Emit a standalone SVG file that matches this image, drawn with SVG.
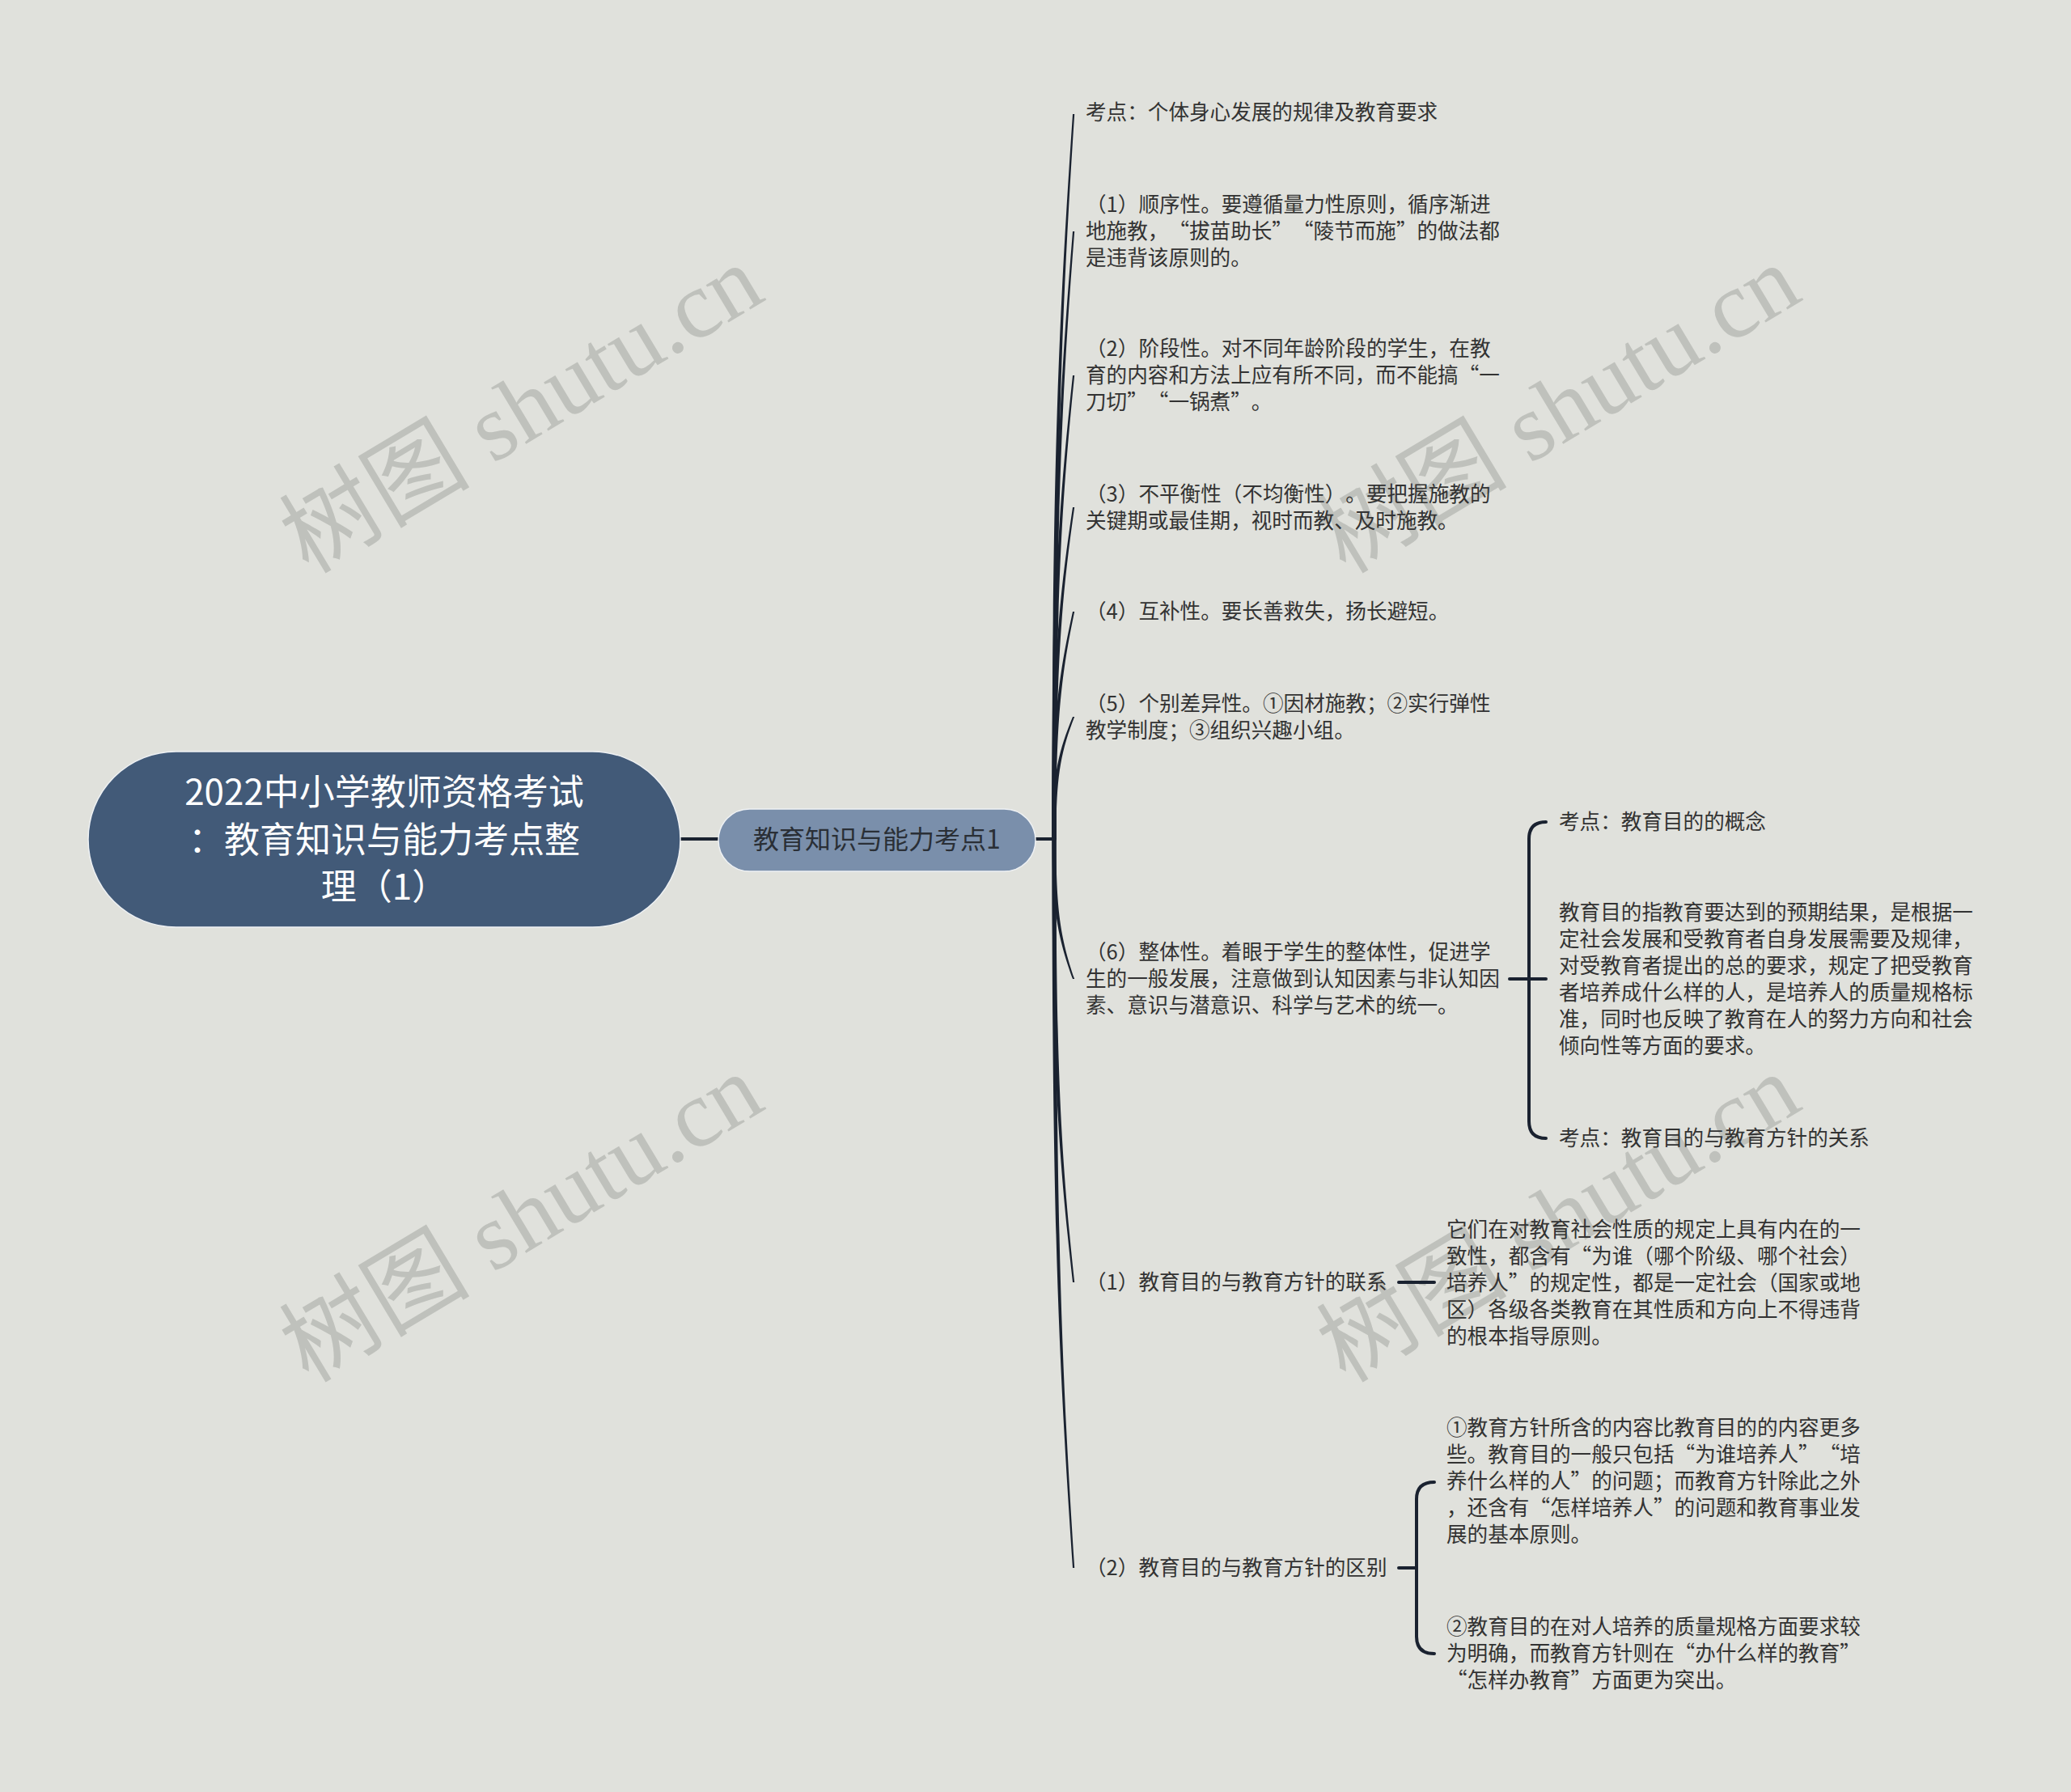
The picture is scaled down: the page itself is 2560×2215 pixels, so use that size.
<svg xmlns="http://www.w3.org/2000/svg" width="2560" height="2215" viewBox="0 0 2560 2215">
<style>
.bg{fill:#e0e1dc}
.wm{font-family:"Liberation Serif","Noto Sans CJK SC",serif;font-size:118px;fill:#bfc1bc}
.rootbox{fill:#425a78;stroke:#eef1f4;stroke-width:1.5}
.subbox{fill:#7a8fab;stroke:#eef1f4;stroke-width:1.5}
.rt{font-family:"Noto Sans CJK SC","Noto Sans",sans-serif;font-size:44px;fill:#ffffff;text-anchor:middle;text-spacing-trim:space-all}
.st{font-family:"Noto Sans CJK SC","Noto Sans",sans-serif;font-size:32px;fill:#2a2f36;text-anchor:middle}
.lt{font-family:"Noto Sans CJK SC","Noto Sans",sans-serif;font-size:25.6px;fill:#333333;text-spacing-trim:space-all}
.ln{fill:none;stroke:#1a2230;stroke-width:4;stroke-linecap:round;stroke-linejoin:round}
.tp{fill:#1a2230;stroke:none}
</style>
<rect class="bg" x="0" y="0" width="2560" height="2215"/>
<g id="watermarks">
<text class="wm" transform="translate(665,540) rotate(-31)" text-anchor="middle">树图 shutu.cn</text>
<text class="wm" transform="translate(1947,540) rotate(-31)" text-anchor="middle">树图 shutu.cn</text>
<text class="wm" transform="translate(665,1540) rotate(-31)" text-anchor="middle">树图 shutu.cn</text>
<text class="wm" transform="translate(1947,1540) rotate(-31)" text-anchor="middle">树图 shutu.cn</text>
</g>
<g id="connectors">
<line class="ln" x1="841" y1="1037" x2="888" y2="1037"/>
<line class="ln" x1="1280" y1="1037" x2="1304" y2="1037"/>
<path class="tp" d="M1300.5 1037 C1300.5 589 1307.5 410 1326 141 L1328.2 141 C1310.5 410 1305.5 589 1305.5 1037 Z"/>
<path class="tp" d="M1300.5 1037 C1300.5 661.5 1307.5 511 1326 286 L1328.2 286 C1310.5 511 1305.5 661.5 1305.5 1037 Z"/>
<path class="tp" d="M1300.5 1037 C1300.5 750.5 1307.5 636 1326 464 L1328.2 464 C1310.5 636 1305.5 750.5 1305.5 1037 Z"/>
<path class="tp" d="M1300.5 1037 C1300.5 832 1307.5 750 1326 627 L1328.2 627 C1310.5 750 1305.5 832 1305.5 1037 Z"/>
<path class="tp" d="M1300.5 1037 C1300.5 896.5 1307.5 840 1326 756 L1328.2 756 C1310.5 840 1305.5 896.5 1305.5 1037 Z"/>
<path class="tp" d="M1300.5 1037 C1300.5 961.5 1307.5 931 1326 886 L1328.2 886 C1310.5 931 1305.5 961.5 1305.5 1037 Z"/>
<path class="tp" d="M1300.5 1037 C1300.5 1123.5 1307.5 1158 1326 1210 L1328.2 1210 C1310.5 1158 1305.5 1123.5 1305.5 1037 Z"/>
<path class="tp" d="M1300.5 1037 C1300.5 1311 1307.5 1421 1326 1585 L1328.2 1585 C1310.5 1421 1305.5 1311 1305.5 1037 Z"/>
<path class="tp" d="M1300.5 1037 C1300.5 1487.5 1307.5 1668 1326 1938 L1328.2 1938 C1310.5 1668 1305.5 1487.5 1305.5 1037 Z"/>
<line class="ln" x1="1866" y1="1210" x2="1911" y2="1210"/>
<path class="ln" d="M1911 1016 Q1890 1016 1890 1037 L1890 1386 Q1890 1407 1911 1407"/>
<line class="ln" x1="1729" y1="1585" x2="1773" y2="1585"/>
<line class="ln" x1="1729" y1="1938" x2="1751" y2="1938"/>
<path class="ln" d="M1773 1832 Q1751 1832 1751 1853 L1751 2023 Q1751 2044 1773 2044"/>
</g>
<g id="root">
<rect class="rootbox" x="109" y="929" width="732" height="217" rx="108.5"/>
<text class="rt"><tspan x="475" y="995">2022中小学教师资格考试</tspan><tspan x="475" y="1054">：教育知识与能力考点整</tspan><tspan x="475" y="1112">理（1）</tspan></text>
</g>
<g id="sub">
<rect class="subbox" x="888" y="1000" width="392" height="77" rx="38.5"/>
<text class="st" x="1084" y="1049">教育知识与能力考点1</text>
</g>
<g id="leaf1"><text class="lt"><tspan x="1342" y="148">考点：个体身心发展的规律及教育要求</tspan></text></g>
<g id="leaf2"><text class="lt"><tspan x="1342" y="262">（1）顺序性。要遵循量力性原则，循序渐进</tspan><tspan x="1342" y="295">地施教，“拔苗助长”“陵节而施”的做法都</tspan><tspan x="1342" y="328">是违背该原则的。</tspan></text></g>
<g id="leaf3"><text class="lt"><tspan x="1342" y="440">（2）阶段性。对不同年龄阶段的学生，在教</tspan><tspan x="1342" y="473">育的内容和方法上应有所不同，而不能搞“一</tspan><tspan x="1342" y="506">刀切”“一锅煮”。</tspan></text></g>
<g id="leaf4"><text class="lt"><tspan x="1342" y="620">（3）不平衡性（不均衡性）。要把握施教的</tspan><tspan x="1342" y="653">关键期或最佳期，视时而教、及时施教。</tspan></text></g>
<g id="leaf5"><text class="lt"><tspan x="1342" y="765">（4）互补性。要长善救失，扬长避短。</tspan></text></g>
<g id="leaf6"><text class="lt"><tspan x="1342" y="879">（5）个别差异性。①因材施教；②实行弹性</tspan><tspan x="1342" y="912">教学制度；③组织兴趣小组。</tspan></text></g>
<g id="leaf7"><text class="lt"><tspan x="1342" y="1186">（6）整体性。着眼于学生的整体性，促进学</tspan><tspan x="1342" y="1219">生的一般发展，注意做到认知因素与非认知因</tspan><tspan x="1342" y="1252">素、意识与潜意识、科学与艺术的统一。</tspan></text></g>
<g id="leaf7a"><text class="lt"><tspan x="1927" y="1025">考点：教育目的的概念</tspan></text></g>
<g id="leaf7b"><text class="lt"><tspan x="1927" y="1137">教育目的指教育要达到的预期结果，是根据一</tspan><tspan x="1927" y="1170">定社会发展和受教育者自身发展需要及规律，</tspan><tspan x="1927" y="1203">对受教育者提出的总的要求，规定了把受教育</tspan><tspan x="1927" y="1236">者培养成什么样的人，是培养人的质量规格标</tspan><tspan x="1927" y="1269">准，同时也反映了教育在人的努力方向和社会</tspan><tspan x="1927" y="1302">倾向性等方面的要求。</tspan></text></g>
<g id="leaf7c"><text class="lt"><tspan x="1927" y="1416">考点：教育目的与教育方针的关系</tspan></text></g>
<g id="leaf8"><text class="lt"><tspan x="1342" y="1594">（1）教育目的与教育方针的联系</tspan></text></g>
<g id="leaf8a"><text class="lt"><tspan x="1788" y="1529">它们在对教育社会性质的规定上具有内在的一</tspan><tspan x="1788" y="1562">致性，都含有“为谁（哪个阶级、哪个社会）</tspan><tspan x="1788" y="1595">培养人”的规定性，都是一定社会（国家或地</tspan><tspan x="1788" y="1628">区）各级各类教育在其性质和方向上不得违背</tspan><tspan x="1788" y="1661">的根本指导原则。</tspan></text></g>
<g id="leaf9"><text class="lt"><tspan x="1342" y="1947">（2）教育目的与教育方针的区别</tspan></text></g>
<g id="leaf9a"><text class="lt"><tspan x="1788" y="1774">①教育方针所含的内容比教育目的的内容更多</tspan><tspan x="1788" y="1807">些。教育目的一般只包括“为谁培养人”“培</tspan><tspan x="1788" y="1840">养什么样的人”的问题；而教育方针除此之外</tspan><tspan x="1788" y="1873">，还含有“怎样培养人”的问题和教育事业发</tspan><tspan x="1788" y="1906">展的基本原则。</tspan></text></g>
<g id="leaf9b"><text class="lt"><tspan x="1788" y="2020">②教育目的在对人培养的质量规格方面要求较</tspan><tspan x="1788" y="2053">为明确，而教育方针则在“办什么样的教育”</tspan><tspan x="1788" y="2086">“怎样办教育”方面更为突出。</tspan></text></g>
</svg>
